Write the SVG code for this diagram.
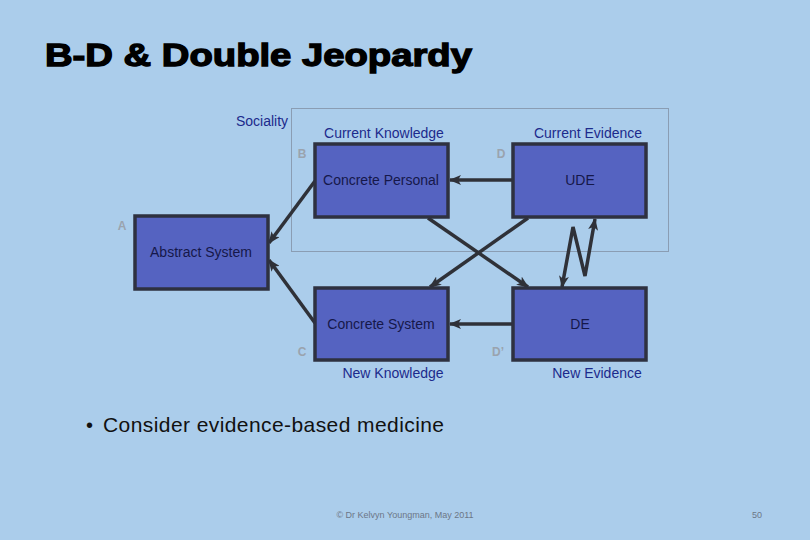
<svg xmlns="http://www.w3.org/2000/svg" width="810" height="540" viewBox="0 0 810 540">
<defs>
<style>
.box{fill:#5563c1;stroke:#2e3140;stroke-width:3.5}
.bt{font-family:"Liberation Sans",Arial,sans-serif;font-size:14px;fill:#15184a;text-anchor:middle}
.cap{font-family:"Liberation Sans",Arial,sans-serif;font-size:14px;fill:#1c2a8c;text-anchor:middle}
.let{font-family:"Liberation Sans",Arial,sans-serif;font-size:12px;font-weight:bold;fill:#9aa3ae;text-anchor:middle}
.con{fill:none;stroke:#2f3138;stroke-width:3.5}
</style>
<marker id="ah" viewBox="0 0 12 10" refX="11" refY="5" markerWidth="12" markerHeight="10" markerUnits="userSpaceOnUse" orient="auto-start-reverse">
<path d="M0,0 L12,5 L0,10 L3,5 Z" fill="#2f3138"/>
</marker>
</defs>
<rect width="810" height="540" fill="#abcdeb"/>
<text x="45" y="66" font-family="'Liberation Sans',Arial,sans-serif" font-size="31" font-weight="bold" fill="#000" stroke="#000" stroke-width="1.3" textLength="427" lengthAdjust="spacingAndGlyphs">B-D &amp; Double Jeopardy</text>
<rect x="291.5" y="108.5" width="377" height="143" fill="none" stroke="#8a9db3" stroke-width="1"/>
<text x="262" y="126" class="cap">Sociality</text>
<text x="384" y="138" class="cap">Current Knowledge</text>
<text x="588" y="138" class="cap">Current Evidence</text>
<text x="393" y="378" class="cap">New Knowledge</text>
<text x="597" y="378" class="cap">New Evidence</text>
<text x="302" y="158" class="let">B</text>
<text x="501" y="158" class="let">D</text>
<text x="122" y="230" class="let">A</text>
<text x="302" y="356" class="let">C</text>
<text x="498" y="356" class="let">D’</text>
<g id="connectors">
<line class="con" x1="513" y1="180" x2="450" y2="180" marker-end="url(#ah)"/>
<line class="con" x1="513" y1="324" x2="450" y2="324" marker-end="url(#ah)"/>
<line class="con" x1="315" y1="181" x2="269" y2="243" marker-end="url(#ah)"/>
<line class="con" x1="315" y1="323" x2="269" y2="260" marker-end="url(#ah)"/>
<line class="con" x1="428" y1="218" x2="528" y2="287" marker-end="url(#ah)"/>
<line class="con" x1="528" y1="218" x2="430" y2="287" marker-end="url(#ah)"/>
<polyline class="con" points="562,287 573,227 585,276 595,219" marker-start="url(#ah)" marker-end="url(#ah)"/>
</g>
<g id="concrete-personal"><rect class="box" x="315" y="144" width="133" height="73"/><text x="381" y="185" class="bt">Concrete Personal</text></g>
<g id="ude"><rect class="box" x="513" y="144" width="133" height="73"/><text x="580" y="185" class="bt">UDE</text></g>
<g id="abstract-system"><rect class="box" x="135" y="216" width="133" height="73"/><text x="201" y="257" class="bt">Abstract System</text></g>
<g id="concrete-system"><rect class="box" x="315" y="288" width="133" height="72"/><text x="381" y="329" class="bt">Concrete System</text></g>
<g id="de"><rect class="box" x="513" y="288" width="133" height="72"/><text x="580" y="329" class="bt">DE</text></g>
<text x="86" y="432" font-family="'Liberation Sans',Arial,sans-serif" font-size="20" fill="#111">•</text>
<text x="103" y="432" font-family="'Liberation Sans',Arial,sans-serif" font-size="21" fill="#111" textLength="341">Consider evidence-based medicine</text>
<text x="405" y="518" font-family="'Liberation Sans',Arial,sans-serif" font-size="9" fill="#6b7787" text-anchor="middle">© Dr Kelvyn Youngman, May 2011</text>
<text x="757" y="518" font-family="'Liberation Sans',Arial,sans-serif" font-size="9" fill="#6b7787" text-anchor="middle">50</text>
</svg>
